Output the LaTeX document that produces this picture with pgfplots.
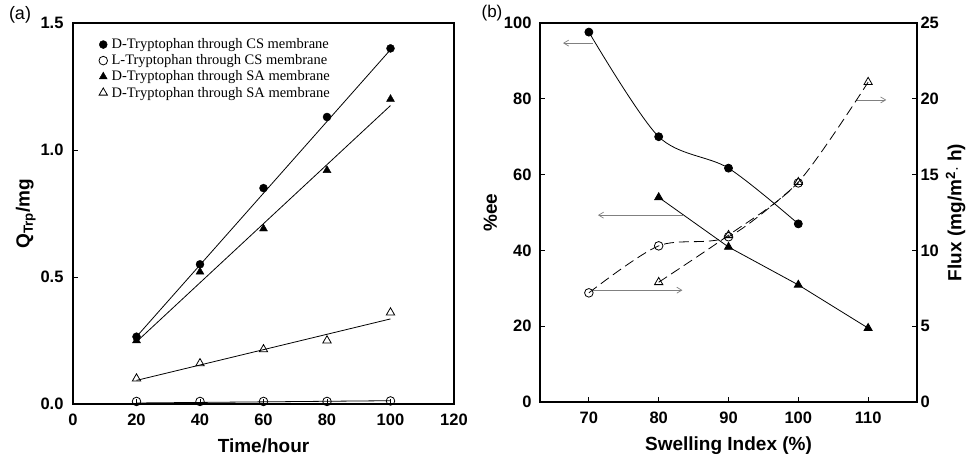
\documentclass[border=0pt]{standalone}
\usepackage{fontspec}
\setmainfont{Liberation Serif}
\setsansfont{Liberation Sans}
\usepackage{pgfplots}
\pgfplotsset{compat=1.18}
\usetikzlibrary{arrows.meta}

\pgfplotsset{
  panel/.style={
    scale only axis,
    font=\sffamily\bfseries\fontsize{16.5}{18}\selectfont,
    /pgf/number format/assume math mode=true,
    axis line style={line width=1.3pt},
    tick style={line width=1pt, black},
    major tick length=5pt,
    xtick pos=left, ytick pos=left,
    xticklabel style={yshift=-6pt},
    yticklabel style={xshift=-6pt},
    label style={font=\sffamily\bfseries\fontsize{19}{21}\selectfont},
    xlabel style={yshift=-7pt},
  },
  fitline/.style={black, line width=0.8pt, no marks},
}
\tikzset{ann/.style={gray, line width=0.7pt, -{Straight Barb[length=5pt,width=6pt]}}}

\begin{document}
\begin{tikzpicture}[x=1pt,y=1pt]
\useasboundingbox (0,0) rectangle (969,459);

% ---------- panel (a)
\node[font=\sffamily\fontsize{18}{20}\selectfont] at (20,444) {(a)};
\begin{axis}[panel,
  at={(73pt,55pt)}, anchor=south west,
  width=381pt, height=381pt,
  xmin=0, xmax=120, ymin=0, ymax=1.5,
  xtick={0,20,...,120}, ytick={0,0.5,1.0,1.5},
  yticklabel style={/pgf/number format/.cd, fixed, fixed zerofill, precision=1},
  xlabel={Time/hour},
  ylabel={Q\textsubscript{Trp}/mg},
  ylabel style={yshift=-2pt},
  legend style={draw=none, fill=none, at={(0.065,0.967)}, anchor=north west,
    font=\rmfamily\mdseries\fontsize{14.5}{15}\selectfont, row sep=0.5pt,
    inner sep=1pt, nodes={inner xsep=4pt}},
  legend cell align=left,
]
\addplot[only marks, mark=*, mark size=4pt, black] coordinates {
  (20,0.265) (40,0.55) (60,0.85) (80,1.13) (100,1.40)};
\addplot[only marks, mark=o, mark size=4.3pt, black, mark options={fill=white, line width=0.8pt}] coordinates {
  (20,0.010) (40,0.010) (60,0.010) (80,0.010) (100,0.012)};
\addplot[only marks, mark=triangle*, mark size=4.6pt, black] coordinates {
  (20,0.25) (40,0.52) (60,0.69) (80,0.92) (100,1.20)};
\addplot[only marks, mark=triangle, mark size=4.8pt, black, mark options={fill=white, line width=0.8pt}] coordinates {
  (20,0.10) (40,0.16) (60,0.215) (80,0.25) (100,0.36)};
\legend{D-Tryptophan through CS membrane, L-Tryptophan through CS membrane,
        D-Tryptophan through SA membrane, D-Tryptophan through SA membrane}
% fitted lines
\addplot[fitline] coordinates {(20,0.265) (100,1.395)};
\addplot[fitline] coordinates {(20,0.245) (100,1.175)};
\addplot[fitline] coordinates {(20,0.093) (100,0.335)};
\addplot[fitline] coordinates {(20,0.004) (100,0.013)};
\end{axis}

% ---------- panel (b)
\node[font=\sffamily\fontsize{17}{19}\selectfont] at (492,446) {(b)};
\begin{axis}[panel,
  at={(540pt,57pt)}, anchor=south west,
  width=377pt, height=379pt,
  xmin=63, xmax=117, ymin=0, ymax=100,
  xtick={70,80,...,110}, ytick={0,20,...,100},
  yticklabel style={xshift=1pt},
  xlabel={Swelling Index (\%)},
  ylabel={\%ee},
]
\addplot[black, line width=0.8pt, smooth, mark=*, mark size=4pt] coordinates {
  (70,97.6) (80,70) (90,61.7) (100,47)};
\addplot[black, line width=0.8pt, mark=triangle*, mark size=4.6pt] coordinates {
  (80,54) (90,40.9) (100,30.9) (110,19.5)};
% indicator arrows
\draw[ann] (axis cs:70.6,94.7) -- (axis cs:66.3,94.7);
\draw[ann] (axis cs:83.6,49.3) -- (axis cs:71.3,49.3);
\draw[ann] (axis cs:70.6,29.5) -- (axis cs:83.4,29.5);
\draw[ann] (axis cs:108.3,79.7) -- (axis cs:112.6,79.7);
\end{axis}
\begin{axis}[panel,
  at={(540pt,57pt)}, anchor=south west,
  width=377pt, height=379pt,
  xmin=63, xmax=117, ymin=0, ymax=25,
  axis x line=none, axis y line*=right,
  ytick pos=right,
  ytick={0,5,...,25},
  yticklabel style={xshift=6pt},
  ylabel={Flux (mg/m\textsuperscript{2}$\cdot$ h)},
]
\addplot[black, line width=0.8pt, dash pattern=on 10pt off 5pt, smooth,
  mark=o, mark size=4.3pt, mark options={solid, fill=white}] coordinates {
  (70,7.2) (80,10.3) (90,10.9) (100,14.45)};
\addplot[black, line width=0.8pt, dash pattern=on 10pt off 5pt, smooth,
  mark=triangle, mark size=4.8pt, mark options={solid, fill=white}] coordinates {
  (80,7.9) (90,11.0) (100,14.5) (110,21.1)};
\end{axis}
\end{tikzpicture}
\end{document}
